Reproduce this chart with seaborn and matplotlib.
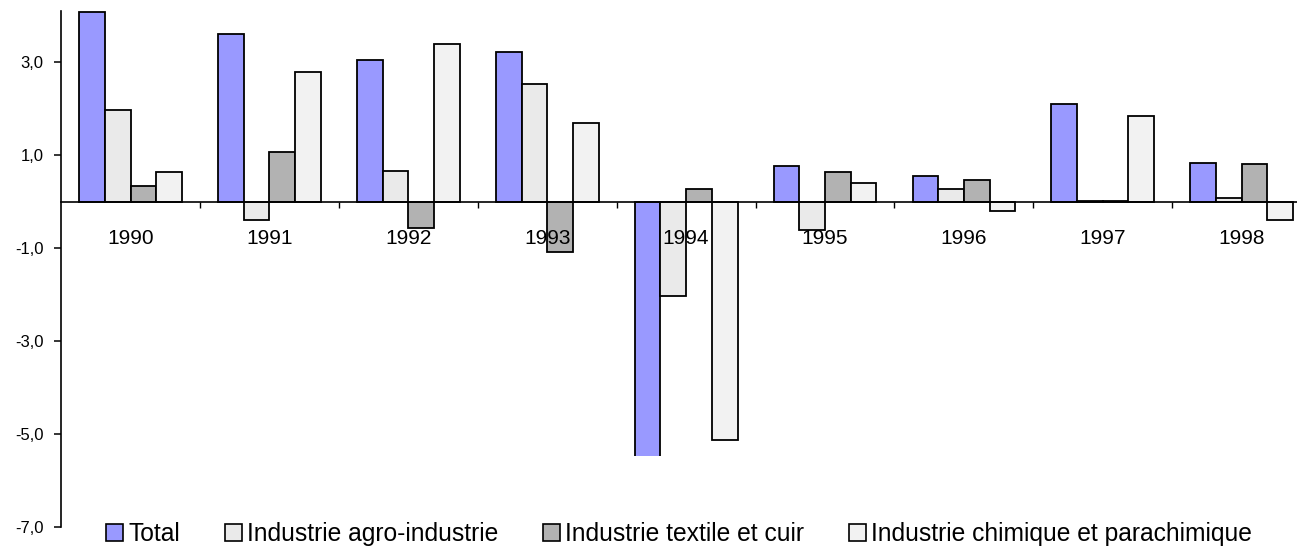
import matplotlib
matplotlib.use("Agg")
import matplotlib.pyplot as plt
import seaborn as sns
import pandas as pd
from matplotlib.transforms import Bbox, TransformedBbox
from matplotlib.ticker import FixedLocator, FuncFormatter

years = ["1990", "1991", "1992", "1993", "1994", "1995", "1996", "1997", "1998"]
series = ["Total", "Industrie agro-industrie", "Industrie textile et cuir",
          "Industrie chimique et parachimique"]
total = [4.07, 3.60, 3.04, 3.21, -5.50, 0.76, 0.55, 2.09, 0.84]
agro = [1.97, -0.40, 0.67, 2.52, -2.03, -0.61, 0.28, 0.01, 0.07]
textile = [0.33, 1.06, -0.57, -1.09, 0.28, 0.63, 0.46, 0.01, 0.80]
chimique = [0.63, 2.79, 3.39, 1.69, -5.11, 0.41, -0.19, 1.84, -0.40]
colors = ["#9999FF", "#EAEAEA", "#B2B2B2", "#F2F2F2"]

values = [total, agro, textile, chimique]
rows = []
for s, vals in zip(series, values):
    for y, v in zip(years, vals):
        rows.append({"Année": y, "Valeur": v, "Série": s})
df = pd.DataFrame(rows)

sns.set_style("white")
plt.rcParams["font.family"] = ["Liberation Sans", "DejaVu Sans"]
plt.rcParams["text.color"] = "black"

fig = plt.figure(figsize=(12.97, 5.46), dpi=100)
ax = fig.add_axes([0.0471, 0.0339, 0.9638, 0.9462])

sns.barplot(data=df, x="Année", y="Valeur", hue="Série", order=years,
            hue_order=series, palette=colors, width=0.74, errorbar=None,
            edgecolor="black", linewidth=1.3, saturation=1, ax=ax)

ax.set_xlim(-0.5, 8.5)
ax.set_ylim(-7, 4.1)
ax.set_axisbelow(False)

# clip the 1994 Total bar at its visible bottom (no bottom border in the reference)
bar94 = ax.containers[0].patches[4]
x0 = bar94.get_x() - 0.05
x1 = bar94.get_x() + bar94.get_width() + 0.05
bar94.set_clip_box(TransformedBbox(Bbox([[x0, -5.47], [x1, 4.1]]), ax.transData))

for side in ["top", "right"]:
    ax.spines[side].set_visible(False)
ax.spines["bottom"].set_position(("data", 0))
ax.spines["bottom"].set_color("black")
ax.spines["bottom"].set_linewidth(1.2)
ax.spines["left"].set_color("black")
ax.spines["left"].set_linewidth(1.2)

ax.set_xlabel("")
ax.set_ylabel("")

ax.xaxis.set_major_locator(FixedLocator(range(len(years))))
ax.set_xticklabels(years)
ax.xaxis.set_minor_locator(FixedLocator([i + 0.5 for i in range(len(years) - 1)]))
ax.tick_params(axis="x", which="major", length=0, pad=19.5, labelsize=15, labelcolor="black")
ax.tick_params(axis="x", which="minor", length=4.5, width=1, direction="out", color="black",
               bottom=True)

ax.yaxis.set_major_locator(FixedLocator([3, 1, -1, -3, -5, -7]))
ax.yaxis.set_major_formatter(FuncFormatter(lambda v, p: f"{v:.1f}".replace(".", ",")))
ax.tick_params(axis="y", which="major", length=5, width=1.1, direction="out", color="black",
               pad=7.5, labelsize=12, labelcolor="black", left=True)

handles, labels = ax.get_legend_handles_labels()
if ax.legend_ is not None:
    ax.legend_.remove()
for h in handles:
    h.set_edgecolor("black")
    h.set_linewidth(1.2)
leg = fig.legend(handles, labels, loc="center left", bbox_to_anchor=(0.0817, 0.022),
                 ncol=4, frameon=False, fontsize=17.7, handlelength=0.7, handleheight=0.7,
                 handletextpad=0.22, columnspacing=1.8, borderpad=0, borderaxespad=0)
for t in leg.get_texts():
    t.set_color("black")

fig.savefig("out.png", dpi=100)
